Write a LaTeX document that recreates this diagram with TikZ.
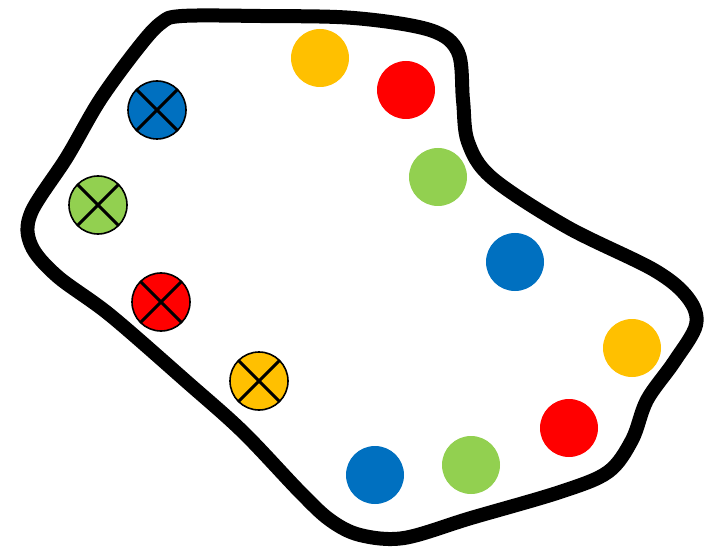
\documentclass[tikz,border=0pt]{standalone}
\definecolor{cyellow}{HTML}{FFC000}
\definecolor{cred}{HTML}{FF0000}
\definecolor{cgreen}{HTML}{92D050}
\definecolor{cblue}{HTML}{0070C0}
\tikzset{
  dot/.style={circle, minimum size=58bp, inner sep=0pt, outer sep=0pt, fill=#1},
  xdot/.style={circle, minimum size=58bp, inner sep=0pt, outer sep=0pt, fill=#1, draw=black, line width=1.6bp},
  xline/.style={line width=3bp, black},
  outline/.style={line width=14bp, black, line join=round}
}
\begin{document}
\begin{tikzpicture}[x=1bp, y=-1bp]
\useasboundingbox (0,0) rectangle (708,550);
\draw[outline] plot[smooth cycle, tension=0.55] coordinates {
 (182,16) (260,16) (354,18) (430,30) (458,52) (463,100) (468,142) (492,178)
 (567,227) (654,270) (688,298) (696,325) (674,362) (647,400) (632,440)
 (608,472) (560,492) (471,518) (404,538) (360,535) (330,520) (300,492)
 (243,432) (187,382) (110,315) (57,276) (31,245) (31,213) (67,157)
 (100,100) (138,48) (161,23)};
% filled dots
\node[dot=cyellow] (y1) at (320,58) {};
\node[dot=cred] (r1) at (406,90) {};
\node[dot=cgreen] (g1) at (438,177) {};
\node[dot=cblue] (b1) at (515,262) {};
\node[dot=cyellow] (y2) at (632,348) {};
\node[dot=cred] (r2) at (569,428) {};
\node[dot=cgreen] (g2) at (471,465) {};
\node[dot=cblue] (b2) at (375,475) {};
% crossed dots
\node[xdot=cblue] (xb) at (157,110) {};
\node[xdot=cgreen] (xg) at (98,205) {};
\node[xdot=cred] (xr) at (161,302) {};
\node[xdot=cyellow] (xy) at (259,381) {};
\foreach \n in {xb,xg,xr,xy}{
  \draw[xline] (\n.45) -- (\n.225);
  \draw[xline] (\n.135) -- (\n.-45);
}
\end{tikzpicture}
\end{document}
